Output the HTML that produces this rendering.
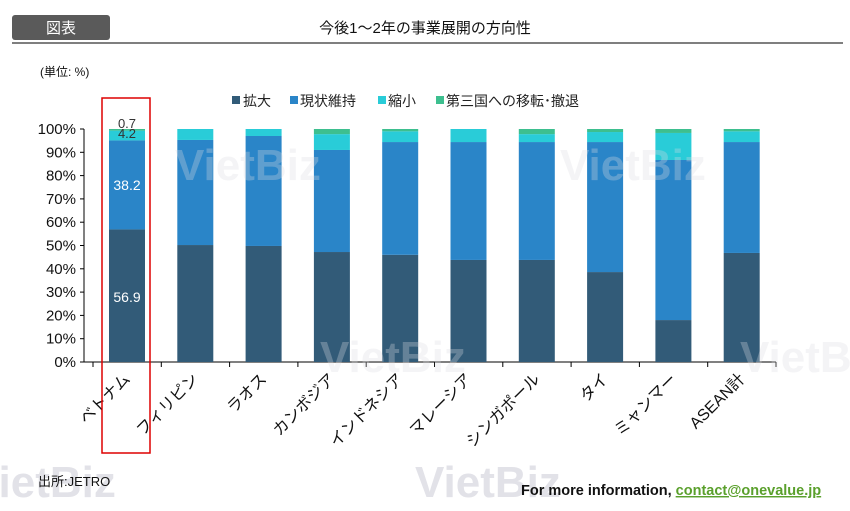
<!DOCTYPE html>
<html><head><meta charset="utf-8"><style>
html,body{margin:0;padding:0;background:#fff;width:850px;height:511px;overflow:hidden}
svg{display:block;font-family:"Liberation Sans","Noto Sans CJK JP",sans-serif}
</style></head><body>
<svg id="s" width="850" height="511" xmlns="http://www.w3.org/2000/svg">
<rect x="12" y="15" width="98" height="25" rx="3" fill="#5a5a5a"/>
<text x="61" y="33" text-anchor="middle" font-size="15" fill="#fff">図表</text>
<text x="425" y="33" text-anchor="middle" font-size="15" fill="#111">今後1～2年の事業展開の方向性</text>
<line x1="12" y1="43" x2="843" y2="43" stroke="#555" stroke-width="1.5"/>
<text x="40" y="76" font-size="12" fill="#111">(単位: %)</text>
<g font-size="14" fill="#222">
<rect x="232" y="96" width="8" height="8" fill="#325b78"/><text x="243" y="106">拡大</text>
<rect x="290" y="96" width="8" height="8" fill="#2a85c8"/><text x="300" y="106">現状維持</text>
<rect x="378" y="96" width="8" height="8" fill="#29ccd8"/><text x="388" y="106">縮小</text>
<rect x="436" y="96" width="8" height="8" fill="#3dbf8f"/><text x="446" y="106">第三国への移転･撤退</text>
</g>
<g id="chart"></g>
<g font-size="44" font-weight="bold" fill="#dcdce2" opacity="0.3" font-family="Liberation Sans,sans-serif">
<text x="175" y="180">VietBiz</text><text x="560" y="180">VietBiz</text>
<text x="320" y="372">VietBiz</text><text x="740" y="372">VietBiz</text>
</g>
<g font-size="44" font-weight="bold" fill="#e2e2e8" font-family="Liberation Sans,sans-serif">
<text x="-30" y="497">VietBiz</text><text x="415" y="497">VietBiz</text>
</g>
<rect x="102" y="98" width="48" height="355" fill="none" stroke="#d00" stroke-width="1.5"/>
<text x="38" y="486" font-size="13" fill="#111">出所:JETRO</text>
<text x="521" y="495" font-size="14.5" font-weight="bold" fill="#111">For more information, <tspan fill="#5aa02c" text-decoration="underline">contact@onevalue.jp</tspan></text>
</svg>
<script>
var d=[[56.9,38.2,4.2,0.7],[50.2,45.1,4.7,0],[49.8,47.2,3,0],[47.2,43.8,6.8,2.2],[46,48.4,4.6,1],[43.8,50.6,5.6,0],[43.8,50.6,3.4,2.2],[38.6,55.8,4.3,1.3],[18,68.7,11.6,1.7],[46.8,47.6,4.6,1]];
var names=["ベトナム","フィリピン","ラオス","カンボジア","インドネシア","マレーシア","シンガポール","タイ","ミャンマー","ASEAN計"];
var col=["#325b78","#2a85c8","#29ccd8","#3dbf8f"];
var y0=362,k=2.33,h='';
for(var i=0;i<=10;i++){var y=y0-i*10*k;h+='<line x1="80" x2="84" y1="'+y+'" y2="'+y+'" stroke="#000"/><text x="76" y="'+(y+5)+'" text-anchor="end" font-size="15" fill="#111">'+(i*10)+'%</text>';}
h+='<line x1="84" x2="84" y1="'+(y0-100*k)+'" y2="'+y0+'" stroke="#000"/>';
h+='<line x1="84" x2="776" y1="'+y0+'" y2="'+y0+'" stroke="#000"/>';
for(i=0;i<=10;i++){var x=93+i*68.3;h+='<line x1="'+x+'" x2="'+x+'" y1="362" y2="367" stroke="#000"/>';}
for(i=0;i<10;i++){var bx=109+i*68.3,c=0;
 for(var j=0;j<4;j++){var v=d[i][j];if(!v)continue;var yt=y0-(c+v)*k;h+='<rect x="'+bx+'" y="'+yt+'" width="36" height="'+(v*k)+'" fill="'+col[j]+'"/>';c+=v;}
 var cx=bx+22;h+='<text transform="translate('+cx+',380) rotate(-45)" text-anchor="end" font-size="16" fill="#111">'+names[i]+'</text>';}
h+='<text x="127" y="302" text-anchor="middle" font-size="14" fill="#fff">56.9</text>';
h+='<text x="127" y="190" text-anchor="middle" font-size="14" fill="#fff">38.2</text>';
h+='<text x="127" y="138" text-anchor="middle" font-size="13" fill="#333">4.2</text>';
h+='<text x="127" y="128" text-anchor="middle" font-size="13" fill="#333">0.7</text>';
document.getElementById('chart').innerHTML=h;
</script>
</body></html>
